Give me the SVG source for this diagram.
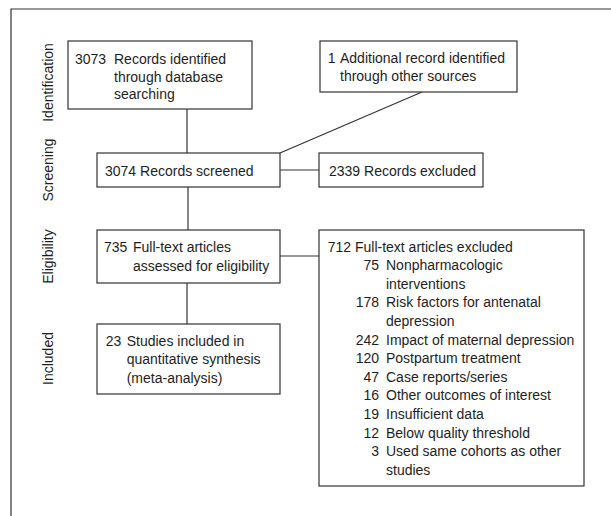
<svg xmlns="http://www.w3.org/2000/svg" width="611" height="516" viewBox="0 0 611 516">
<style>
text{font-family:"Liberation Sans",Arial,sans-serif;font-size:14px;fill:#1e1e1e}
.box{fill:#fff;stroke:#333;stroke-width:1.2}
.ln{stroke:#333;stroke-width:1.2;fill:none}
.n{text-anchor:end}
.side{text-anchor:middle}
</style>
<rect width="611" height="516" fill="#fff"/>
<path class="ln" d="M11 516V9H611" stroke-width="1.4"/>
<g id="stages">
<text class="side" transform="translate(53,82.5) rotate(-90)">Identification</text>
<text class="side" transform="translate(53,170) rotate(-90)">Screening</text>
<text class="side" transform="translate(53,256.5) rotate(-90)">Eligibility</text>
<text class="side" transform="translate(53,358.5) rotate(-90)">Included</text>
</g>
<g id="connectors">
<path class="ln" d="M187 109V153"/>
<path class="ln" d="M280 153L422 92"/>
<path class="ln" d="M280 170H319"/>
<path class="ln" d="M188 187V230"/>
<path class="ln" d="M280 256H319"/>
<path class="ln" d="M187 283V324"/>
</g>
<g id="n3073">
<rect class="box" x="68" y="41" width="184" height="68"/>
<text x="75" y="64">3073</text>
<text x="114" y="64">Records identified</text>
<text x="114" y="81.5">through database</text>
<text x="114" y="99">searching</text>
</g>
<g id="nAdditional">
<rect class="box" x="320" y="41" width="197" height="51"/>
<text x="327.7" y="63">1</text>
<text x="340" y="63">Additional record identified</text>
<text x="340" y="81">through other sources</text>
</g>
<g id="nScreened">
<rect class="box" x="97" y="153" width="183" height="34"/>
<text x="105" y="176">3074 Records screened</text>
</g>
<g id="nExcluded">
<rect class="box" x="319" y="153" width="164" height="34"/>
<text x="329" y="176">2339 Records excluded</text>
</g>
<g id="nFulltext">
<rect class="box" x="97" y="230" width="183" height="53"/>
<text x="104" y="251.7">735</text>
<text x="133" y="251.7">Full-text articles</text>
<text x="133" y="270.7">assessed for eligibility</text>
</g>
<g id="nIncluded">
<rect class="box" x="97" y="324" width="183" height="70"/>
<text x="105.7" y="346">23</text>
<text x="126.7" y="346">Studies included in</text>
<text x="126.7" y="364.3">quantitative synthesis</text>
<text x="126.7" y="382.7">(meta-analysis)</text>
</g>
<g id="nFTExcluded">
<rect class="box" x="319" y="230" width="265" height="256"/>
<text x="327.7" y="251.5">712 Full-text articles excluded</text>
<text class="n" x="379" y="270.1">75</text><text x="386" y="270.1">Nonpharmacologic</text>
<text x="386" y="288.7">interventions</text>
<text class="n" x="379" y="307.3">178</text><text x="386" y="307.3">Risk factors for antenatal</text>
<text x="386" y="325.9">depression</text>
<text class="n" x="379" y="344.5">242</text><text x="386" y="344.5">Impact of maternal depression</text>
<text class="n" x="379" y="363.1">120</text><text x="386" y="363.1">Postpartum treatment</text>
<text class="n" x="379" y="381.7">47</text><text x="386" y="381.7">Case reports/series</text>
<text class="n" x="379" y="400.3">16</text><text x="386" y="400.3">Other outcomes of interest</text>
<text class="n" x="379" y="418.9">19</text><text x="386" y="418.9">Insufficient data</text>
<text class="n" x="379" y="437.5">12</text><text x="386" y="437.5">Below quality threshold</text>
<text class="n" x="379" y="456.1">3</text><text x="386" y="456.1">Used same cohorts as other</text>
<text x="386" y="474.7">studies</text>
</g>
</svg>
